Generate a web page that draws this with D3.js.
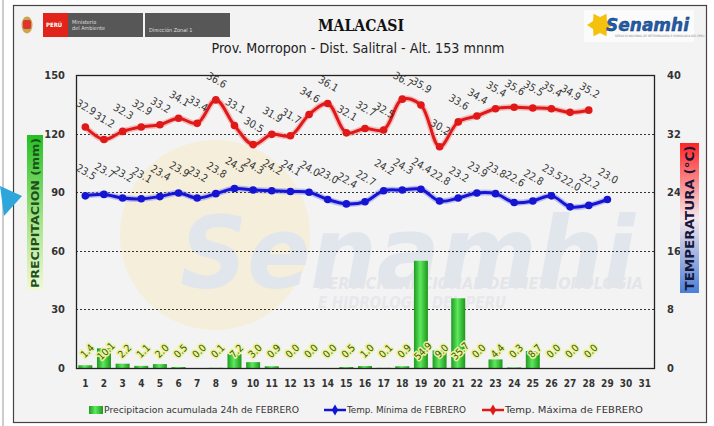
<!DOCTYPE html>
<html lang="es">
<head>
<meta charset="UTF-8">
<title>MALACASI - Febrero</title>
<script src="https://d3js.org/d3.v7.min.js"></script>
<style>
  body { margin: 0; background: #fff; }
  svg { display: block; font-family: "DejaVu Sans Condensed", "Liberation Sans Narrow", "DejaVu Sans", sans-serif; }
</style>
</head>
<body>
<div id="chart"></div>
<script>
// categorias (dias del mes)
const days = ["1","2","3","4","5","6","7","8","9","10","11","12","13","14","15","16",
              "17","18","19","20","21","22","23","24","25","26","27","28","29","30","31"];
// precipitacion acumulada 24h (mm)
const precip = [1.4, 10.1, 2.2, 1.1, 2.0, 0.5, 0.0, 0.1, 7.2, 3.0, 0.9, 0.0, 0.0, 0.0,
                0.5, 1.0, 0.1, 0.9, 54.9, 9.0, 35.7, 0.0, 4.4, 0.3, 8.7, 0.0, 0.0, 0.0];
// temperatura maxima (°C)
const tMax = [32.9, 31.2, 32.3, 32.9, 33.2, 34.1, 33.4, 36.6, 33.1, 30.5, 31.9, 31.7, 34.6, 36.1,
              32.1, 32.7, 32.5, 36.7, 35.9, 30.2, 33.6, 34.4, 35.4, 35.6, 35.5, 35.4, 34.9, 35.2];
// temperatura minima (°C)
const tMin = [23.5, 23.7, 23.2, 23.1, 23.4, 23.9, 23.2, 23.8, 24.5, 24.3, 24.2, 24.1, 24.0, 23.0,
              22.4, 22.7, 24.2, 24.3, 24.4, 22.8, 23.2, 23.9, 23.8, 22.6, 22.8, 23.5, 22.0, 22.2, 23.0];
const precTicks = [0, 30, 60, 90, 120, 150];
const tempTicks = [0, 8, 16, 24, 32, 40];

const W = 714, H = 426;
const plot = { left: 76, right: 654, top: 75, bottom: 368 };

const svg = d3.select("#chart").append("svg")
    .attr("width", W).attr("height", H);

const defs = svg.append("defs");

// degradados
const gBar = defs.append("linearGradient").attr("id", "gBar").attr("x1", 0).attr("x2", 1).attr("y1", 0).attr("y2", 0);
gBar.append("stop").attr("offset", "0%").attr("stop-color", "#1f9a1f");
gBar.append("stop").attr("offset", "45%").attr("stop-color", "#5ee85e");
gBar.append("stop").attr("offset", "100%").attr("stop-color", "#1c961c");

const gPrec = defs.append("linearGradient").attr("id", "gPrec").attr("x1", 0).attr("x2", 0).attr("y1", 0).attr("y2", 1);
gPrec.append("stop").attr("offset", "0%").attr("stop-color", "#22c022");
gPrec.append("stop").attr("offset", "55%").attr("stop-color", "#a6e487");
gPrec.append("stop").attr("offset", "100%").attr("stop-color", "#f2f8d6");

const gTemp = defs.append("linearGradient").attr("id", "gTemp").attr("x1", 0).attr("x2", 0).attr("y1", 0).attr("y2", 1);
gTemp.append("stop").attr("offset", "0%").attr("stop-color", "#ff2424");
gTemp.append("stop").attr("offset", "50%").attr("stop-color", "#f6e6ea");
gTemp.append("stop").attr("offset", "100%").attr("stop-color", "#4a7fd6");

// marco
svg.append("line").attr("x1", 3).attr("x2", 3).attr("y1", 0).attr("y2", H)
    .attr("stroke", "#999").attr("stroke-width", 1);
svg.append("rect").attr("x", 13.5).attr("y", 5.5).attr("width", 693).attr("height", 417)
    .attr("fill", "#f3f3f3").attr("stroke", "#444").attr("stroke-width", 1.2);

// flecha azul (fragmento a la izquierda)
svg.append("polygon").attr("points", "0,186 22,196 4,216")
    .attr("fill", "#2ea6dc");

// marca de agua
const wm = svg.append("g").attr("class", "watermark");
wm.append("circle").attr("cx", 215).attr("cy", 235).attr("r", 95).attr("fill", "#f6ecd2").attr("opacity", 0.75);
wm.append("text").attr("x", 180).attr("y", 288)
    .attr("font-size", 100).attr("font-weight", "bold").attr("font-style", "italic")
    .attr("font-family", "'DejaVu Sans', sans-serif")
    .attr("textLength", 455).attr("lengthAdjust", "spacingAndGlyphs")
    .attr("fill", "#e1e6ec").text("Senamhi");
wm.append("text").attr("x", 318).attr("y", 289)
    .attr("font-size", 16).attr("font-weight", "bold").attr("font-style", "italic")
    .attr("textLength", 325).attr("lengthAdjust", "spacingAndGlyphs")
    .attr("fill", "#e3e5e9").text("SERVICIO NACIONAL DE METEOROLOGIA");
wm.append("text").attr("x", 318).attr("y", 308)
    .attr("font-size", 16).attr("font-weight", "bold").attr("font-style", "italic")
    .attr("textLength", 188).attr("lengthAdjust", "spacingAndGlyphs")
    .attr("fill", "#e7e8eb").text("E HIDROLOGIA DEL PERU");

// encabezado: logos
const hdr = svg.append("g");
hdr.append("ellipse").attr("cx", 27).attr("cy", 25).attr("rx", 5.5).attr("ry", 8.5).attr("fill", "#c9a64a");
hdr.append("rect").attr("x", 23).attr("y", 20).attr("width", 8).attr("height", 9).attr("fill", "#d33").attr("rx", 2);
hdr.append("rect").attr("x", 43).attr("y", 13).attr("width", 25).attr("height", 24).attr("fill", "#e2231a");
hdr.append("text").attr("x", 46).attr("y", 27).attr("font-size", 6).attr("font-weight", "bold").attr("fill", "#fff").text("PERÚ");
hdr.append("rect").attr("x", 68).attr("y", 13).attr("width", 75).attr("height", 24).attr("fill", "#575757");
hdr.append("text").attr("x", 72).attr("y", 24).attr("font-size", 5.5).attr("fill", "#ddd").text("Ministerio");
hdr.append("text").attr("x", 72).attr("y", 30).attr("font-size", 5.5).attr("fill", "#ddd").text("del Ambiente");
hdr.append("rect").attr("x", 145).attr("y", 13).attr("width", 85).attr("height", 24).attr("fill", "#575757");
hdr.append("text").attr("x", 149).attr("y", 32).attr("font-size", 5.5).attr("fill", "#ddd").text("Dirección Zonal 1");

hdr.append("rect").attr("x", 584).attr("y", 10).attr("width", 110).attr("height", 32).attr("fill", "#fbfbfb");
const sun = d3.range(12).map(i => {
  const a = i * Math.PI / 6, r = i % 2 ? 8 : 13;
  return [600 + r * Math.cos(a), 25 + r * Math.sin(a)];
});
hdr.append("polygon").attr("points", sun.map(p => p.join(",")).join(" ")).attr("fill", "#f4c20d");
hdr.append("text").attr("x", 606).attr("y", 31)
    .attr("font-family", "'DejaVu Sans', sans-serif")
    .attr("font-size", 17).attr("font-weight", "bold").attr("font-style", "italic")
    .attr("fill", "#1f5da8").attr("stroke", "#0f2f6a").attr("stroke-width", 0.4)
    .text("Senamhi");
hdr.append("text").attr("x", 615).attr("y", 37).attr("font-size", 3).attr("fill", "#888")
    .text("SERVICIO NACIONAL DE METEOROLOGIA E HIDROLOGIA DEL PERU");

// titulos
svg.append("text").attr("x", 361).attr("y", 31).attr("text-anchor", "middle")
    .attr("font-family", "'DejaVu Serif Condensed', 'DejaVu Serif', serif")
    .attr("font-size", 16).attr("font-weight", "bold").attr("fill", "#111")
    .attr("textLength", 86).attr("lengthAdjust", "spacingAndGlyphs")
    .text("MALACASI");
svg.append("text").attr("x", 358).attr("y", 53).attr("text-anchor", "middle")
    .attr("font-size", 14).attr("fill", "#222")
    .attr("textLength", 293).attr("lengthAdjust", "spacingAndGlyphs")
    .text("Prov. Morropon - Dist. Salitral - Alt. 153 mnnm");

// escalas
const x = d3.scaleBand().domain(days).range([plot.left, plot.right]).paddingInner(0.25).paddingOuter(0.125);
const xc = d => x(d) + x.bandwidth() / 2;
const yP = d3.scaleLinear().domain([0, 150]).range([plot.bottom, plot.top]);
const yT = d3.scaleLinear().domain([0, 40]).range([plot.bottom, plot.top]);

// lineas de cuadricula punteadas
svg.append("g").selectAll("line").data(precTicks.slice(1, -1)).join("line")
    .attr("x1", plot.left).attr("x2", plot.right)
    .attr("y1", d => Math.round(yP(d)) + 0.5).attr("y2", d => Math.round(yP(d)) + 0.5)
    .attr("stroke", "#333").attr("stroke-width", 1.2).attr("stroke-dasharray", "2,2");

// barras de precipitacion
svg.append("g").selectAll("rect").data(precip).join("rect")
    .attr("x", (d, i) => x(days[i]))
    .attr("y", d => yP(d))
    .attr("width", x.bandwidth())
    .attr("height", d => yP(0) - yP(d))
    .attr("fill", "url(#gBar)");

// borde del area de grafico
svg.append("rect").attr("x", plot.left + 0.5).attr("y", plot.top + 0.5)
    .attr("width", plot.right - plot.left).attr("height", plot.bottom - plot.top)
    .attr("fill", "none").attr("stroke", "#222").attr("stroke-width", 1.3);

// ejes
const axisL = d3.axisLeft(yP).tickValues(precTicks).tickSize(0).tickPadding(11);
const axL = svg.append("g").attr("transform", `translate(${plot.left},0)`).call(axisL);
const axisR = d3.axisRight(yT).tickValues(tempTicks).tickSize(0).tickPadding(13);
const axR = svg.append("g").attr("transform", `translate(${plot.right},0)`).call(axisR);
const axisB = d3.axisBottom(x).tickSize(0).tickPadding(12);
const axB = svg.append("g").attr("transform", `translate(0,${plot.bottom})`).call(axisB);
[axL, axR, axB].forEach(a => {
  a.select(".domain").remove();
  a.selectAll("text").attr("font-family", "'DejaVu Sans Condensed', sans-serif")
    .attr("font-weight", "bold").attr("fill", "#333");
});
axL.selectAll("text").attr("font-size", 11);
axR.selectAll("text").attr("font-size", 11);
axB.selectAll("text").attr("font-size", 10);

// titulos de ejes
svg.append("rect").attr("x", 27).attr("y", 135).attr("width", 16).attr("height", 155).attr("fill", "url(#gPrec)");
svg.append("text").attr("transform", "translate(35.5,213) rotate(-90)")
    .attr("text-anchor", "middle").attr("dominant-baseline", "central")
    .attr("font-family", "'DejaVu Sans', sans-serif")
    .attr("font-size", 11).attr("font-weight", "bold").attr("fill", "#1d4f1d")
    .attr("textLength", 150).attr("lengthAdjust", "spacingAndGlyphs")
    .text("PRECIPITACION (mm)");
svg.append("rect").attr("x", 680).attr("y", 143).attr("width", 19).attr("height", 150).attr("fill", "url(#gTemp)");
svg.append("text").attr("transform", "translate(690,218) rotate(-90)")
    .attr("text-anchor", "middle").attr("dominant-baseline", "central")
    .attr("font-family", "'DejaVu Sans', sans-serif")
    .attr("font-size", 11.5).attr("font-weight", "bold").attr("fill", "#16163a")
    .attr("textLength", 145).attr("lengthAdjust", "spacingAndGlyphs")
    .text("TEMPERATURA (°C)");

// lineas de temperatura
const fmt = d3.format(".1f");
function tempSeries(values, color, glow, labelDy) {
  const line = d3.line()
      .x((d, i) => xc(days[i]))
      .y(d => yT(d))
      .curve(d3.curveCatmullRom.alpha(0.5));
  const g = svg.append("g");
  g.append("path").datum(values).attr("d", line)
      .attr("fill", "none").attr("stroke", glow).attr("stroke-width", 6).attr("opacity", 0.45);
  g.append("path").datum(values).attr("d", line)
      .attr("fill", "none").attr("stroke", color).attr("stroke-width", 3);
  g.selectAll("circle").data(values).join("circle")
      .attr("cx", (d, i) => xc(days[i])).attr("cy", d => yT(d))
      .attr("r", 3.8).attr("fill", color);
  g.selectAll("text").data(values).join("text")
      .attr("transform", (d, i) => `translate(${xc(days[i]) + 1},${yT(d) - labelDy}) rotate(30)`)
      .attr("text-anchor", "middle").attr("dominant-baseline", "central")
      .attr("font-size", 10.5).attr("fill", "#333")
      .text(d => fmt(d));
}
tempSeries(tMin, "#1414d2", "#7a7af0", 24);
tempSeries(tMax, "#e01818", "#f07a7a", 20);

// etiquetas de precipitacion
svg.append("g").selectAll("text").data(precip).join("text")
    .attr("transform", (d, i) => `translate(${xc(days[i]) + 2},${plot.bottom - 17}) rotate(-45)`)
    .attr("text-anchor", "middle").attr("dominant-baseline", "central")
    .attr("font-size", 10).attr("fill", "#2f5a08")
    .attr("stroke", "#eef29a").attr("stroke-width", 3).attr("paint-order", "stroke")
    .attr("stroke-linejoin", "round")
    .text(d => fmt(d));

// leyenda
const lg = svg.append("g").attr("font-size", 9).attr("fill", "#333");
const ly = 410;
lg.append("rect").attr("x", 89).attr("y", ly - 4).attr("width", 14).attr("height", 8).attr("fill", "url(#gBar)");
lg.append("text").attr("x", 104).attr("y", ly).attr("dominant-baseline", "central")
    .attr("textLength", 195).attr("lengthAdjust", "spacingAndGlyphs")
    .text("Precipitacion acumulada 24h de FEBRERO");
const legLines = [
  { x: 324, color: "#1414d2", label: "Temp. Mínima de FEBRERO", len: 119 },
  { x: 482, color: "#e01818", label: "Temp. Máxima de FEBRERO", len: 138 }
];
legLines.forEach(l => {
  lg.append("line").attr("x1", l.x).attr("x2", l.x + 22).attr("y1", ly).attr("y2", ly)
      .attr("stroke", l.color).attr("stroke-width", 2.5);
  lg.append("path").attr("d", d3.symbol(d3.symbolDiamond, 36)())
      .attr("transform", `translate(${l.x + 11},${ly})`).attr("fill", l.color);
  lg.append("text").attr("x", l.x + 23).attr("y", ly).attr("dominant-baseline", "central")
      .attr("textLength", l.len).attr("lengthAdjust", "spacingAndGlyphs")
      .text(l.label);
});
</script>
</body>
</html>
